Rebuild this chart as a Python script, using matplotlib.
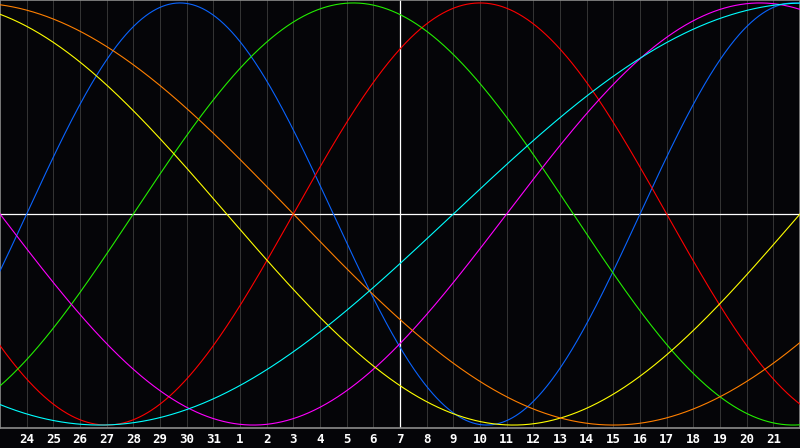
import numpy as np
import matplotlib.pyplot as plt

# days shown on the chart (23rd of last month .. 22nd), today = 7
days = [23, 24, 25, 26, 27, 28, 29, 30, 31,
        1, 2, 3, 4, 5, 6, 7, 8, 9, 10, 11, 12, 13, 14, 15, 16, 17, 18, 19, 20, 21, 22]
today_idx = 15

# biorhythm cycles: length in days, and how many days into the cycle we are today
cycle_names = ['physical', 'emotional', 'intellectual', 'intuitive',
               'aesthetic', 'awareness', 'spiritual']
cycle_len = [23, 28, 33, 38, 43, 48, 53]
cycle_pos_today = [14, 4, 10, 34, 28, 28, 51]
cycle_colors = ['#0a64ff', '#ff0000', '#22ee00', '#ff00ff',
                '#ffff00', '#ff7f00', '#00ffff']

bg = '#050508'
fig = plt.figure(figsize=(8, 4.48), dpi=100, facecolor=bg)
ax = fig.add_axes([0, 20 / 448, 1, 428 / 448])
ax.set_facecolor(bg)

n = len(days) - 1
ax.set_xlim(0, n)
ax.set_ylim(-1.014, 1.014)

# day grid
for i in range(1, n):
    if i == today_idx:
        continue
    ax.axvline(i, color='#333333', lw=0.75, zorder=1)
ax.axvline(today_idx, color='white', lw=0.9, zorder=2)
ax.axhline(0, color='white', lw=0.9, zorder=2)

x = np.linspace(0, n, 1201)
for name, per, pos, col in zip(cycle_names, cycle_len, cycle_pos_today, cycle_colors):
    t = pos + (x - today_idx)
    ax.plot(x, np.sin(2 * np.pi * t / per), color=col, lw=0.8, zorder=3, label=name)

ax.set_xticks(range(1, n))
ax.set_xticklabels([str(d) for d in days[1:n]])
ax.set_yticks([])
ax.tick_params(axis='x', length=0, pad=3.5, colors='white', labelsize=9)
for lab in ax.get_xticklabels():
    lab.set_fontfamily('DejaVu Sans Mono')
    lab.set_fontweight('bold')

for s in ax.spines.values():
    s.set_color('#8c8c8c')
    s.set_linewidth(1.2)

fig.savefig('out.png', dpi=100, facecolor=bg)
